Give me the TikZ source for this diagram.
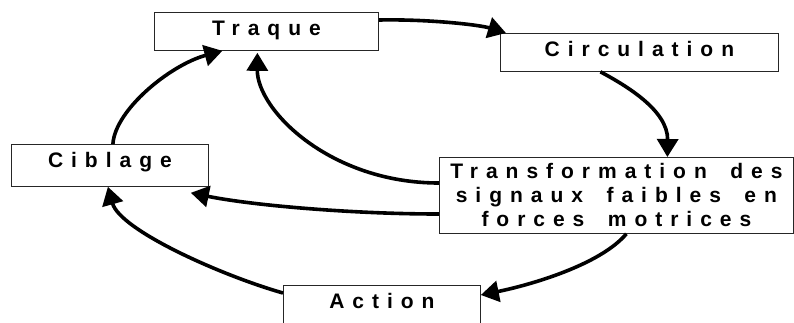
\documentclass[tikz,border=0pt]{standalone}
\usepackage{fontspec}
\newfontfamily\boxfont{Liberation Sans Bold}[LetterSpace=38,WordSpace=1.7]
\usetikzlibrary{arrows.meta,calc}
\begin{document}
\begin{tikzpicture}[x=1pt,y=-1pt,
  box/.style={draw=black!85,line width=0.8pt,fill=white,inner xsep=0pt,inner ysep=0pt,
    anchor=north west,font=\boxfont\fontsize{21}{24}\selectfont},
  conn/.style={line width=3.6pt,-{Triangle[length=18pt,width=21pt]}}]
\useasboundingbox (0,0) rectangle (794,322);
\node[box,minimum width=224pt,text height=23pt,text depth=15pt] (traque) at (154,12) {Traque};
\node[box,minimum width=278pt,text height=23pt,text depth=15pt] (circ) at (500,33) {Circulation};
\node[box,minimum width=197pt,text height=23pt,text depth=19pt] (cibl) at (11,144) {Ciblage};
\node[box,minimum width=197pt,text height=23pt,text depth=20pt] (action) at (283,285) {Action};
\node[box,minimum width=354pt,minimum height=76pt,align=center] (trans) at (439,157)
  {Transformation des\\signaux faibles en\\forces motrices};
% connectors
\draw[conn] ([yshift=-8pt]traque.north east) .. controls (430,19) and (480,25) .. ([xshift=6pt]circ.north west);
\draw[conn] ([xshift=-39pt]circ.south) .. controls (625,85) and (668,110) .. ([xshift=51pt]trans.north);
\draw[conn] ([xshift=10pt]trans.south) .. controls (600,265) and (530,285) .. ([yshift=-10pt]action.north east);
\draw[conn] ([yshift=-8pt]action.north west) .. controls (220,275) and (120,230) .. ([xshift=-2pt]cibl.south);
\draw[conn] ([xshift=3pt]cibl.north) .. controls (115,110) and (170,65) .. ([xshift=-44pt]traque.south);
\draw[conn] ([yshift=-26pt]trans.north west) .. controls (330,183) and (257,110) .. ([xshift=-9pt,yshift=-2pt]traque.south);
\draw[conn] ([yshift=-57pt]trans.north west) .. controls (350,214) and (250,205) .. ([xshift=-18pt,yshift=-6pt]cibl.south east);
\end{tikzpicture}
\end{document}
